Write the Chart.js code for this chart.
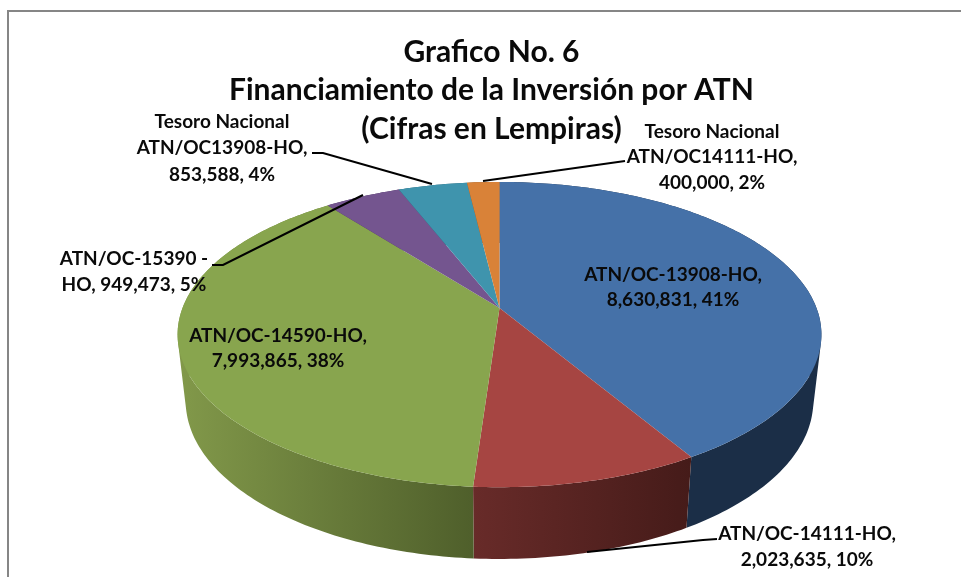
<!DOCTYPE html>
<html>
<head>
<meta charset="utf-8">
<title>Grafico No. 6</title>
<script src="https://cdn.jsdelivr.net/npm/chart.js@4"></script>
<style>
  html, body { margin: 0; padding: 0; background: #fff; overflow: hidden; }
  canvas { display: block; }
</style>
</head>
<body>
<canvas id="grafico" width="961" height="577"></canvas>
<script>
'use strict'

// datos
const categorias = ['ATN/OC-13908-HO', 'ATN/OC-14111-HO', 'ATN/OC-14590-HO', 'ATN/OC-15390 -HO', 'Tesoro Nacional ATN/OC13908-HO', 'Tesoro Nacional ATN/OC14111-HO'];
const valores = [8630831, 2023635, 7993865, 949473, 853588, 400000];
const coloresTapa = ['#4571a8', '#a64542', '#88a54e', '#74558f', '#3f94ad', '#d98238'];
const titulo = ['Grafico No. 6', 'Financiamiento de la Inversión por ATN', '(Cifras en Lempiras)'];
const etiquetas = [
  ['ATN/OC-13908-HO,', '8,630,831, 41%'],
  ['ATN/OC-14111-HO,', '2,023,635, 10%'],
  ['ATN/OC-14590-HO,', '7,993,865, 38%'],
  ['ATN/OC-15390 -', 'HO, 949,473, 5%'],
  ['Tesoro Nacional', 'ATN/OC13908-HO,', '853,588, 4%'],
  ['Tesoro Nacional', 'ATN/OC14111-HO,', '400,000, 2%']
];

// colores de la pared lateral (izquierda, derecha)
const coloresPared = [['#1b2e47', '#1b2e47'], ['#682b29', '#451b19'], ['#82994a', '#4f5f2b'], ['#4a3560', '#4a3560'], ['#285f70', '#285f70'], ['#8c5222', '#8c5222']];

// posicion de cada etiqueta: centro x, y de cada renglon
const posEtiquetas = [
  [673, [275, 300]],
  [807, [534, 560]],
  [278, [336, 361]],
  [134, [259, 285]],
  [222, [122, 148, 175]],
  [712, [132, 157, 183]]
];

// lineas guia de las etiquetas
const guias = [
  [[717, 539], [703, 540], [587, 552]],
  [[212, 265], [223, 265], [363, 195]],
  [[312, 153], [323, 153], [432, 184]],
  [[483, 181], [625, 161]]
];

// perspectiva del disco: tapa superior y base
const K = -0.174;
const tapa = { x: 499.5, y: 308, cx: 317, cy: 148 };
const base = { x: 499.5, y: 373.5, cx: 309, cy: 153.2 };

function proyectar(d, ang) {
  const u = Math.cos(ang), v = Math.sin(ang), w = 1 + K * v;
  return [d.x + d.cx * u / w, d.y + d.cy * v / w];
}

function borde(ini, fin) {
  const n = Math.max(2, Math.ceil((fin - ini) * 60));
  const angs = [];
  for (let i = 0; i <= n; i++) angs.push(ini + (fin - ini) * i / n);
  return angs;
}

// area con signo, para dejar todos los tramos con el mismo giro
function areaTramo(q) {
  let s = 0;
  q.forEach((p, i) => {
    const r = q[(i + 1) % q.length];
    s += p[0] * r[1] - r[0] * p[1];
  });
  return s;
}

const pastel3d = {
  id: 'pastel3d',
  beforeDatasetDraw(chart, args) {
    const ctx = chart.ctx;
    const arcos = args.meta.data;

    // paredes: todos los tramos de una porcion en un solo path
    arcos.forEach((arco, i) => {
      const angs = borde(arco.startAngle, arco.endAngle);
      const xs = angs.map(a => proyectar(tapa, a)[0]);
      const izq = Math.min(...xs), der = Math.max(...xs);
      const grad = ctx.createLinearGradient(izq, 0, der, 0);
      grad.addColorStop(0, coloresPared[i][0]);
      grad.addColorStop(1, coloresPared[i][1]);
      ctx.beginPath();
      for (let j = 0; j < angs.length - 1; j++) {
        const q = [proyectar(tapa, angs[j]), proyectar(tapa, angs[j + 1]), proyectar(base, angs[j + 1]), proyectar(base, angs[j])];
        if (areaTramo(q) < 0) q.reverse();
        ctx.moveTo(q[0][0], q[0][1]);
        ctx.lineTo(q[1][0], q[1][1]);
        ctx.lineTo(q[2][0], q[2][1]);
        ctx.lineTo(q[3][0], q[3][1]);
        ctx.closePath();
      }
      ctx.fillStyle = grad;
      ctx.fill();
    });

    // tapa superior
    arcos.forEach((arco, i) => {
      ctx.beginPath();
      ctx.moveTo(tapa.x, tapa.y);
      borde(arco.startAngle, arco.endAngle).forEach(a => {
        const p = proyectar(tapa, a);
        ctx.lineTo(p[0], p[1]);
      });
      ctx.closePath();
      ctx.fillStyle = coloresTapa[i];
      ctx.fill();
    });
    return false;
  },
  afterDraw(chart) {
    const ctx = chart.ctx;
    ctx.save();

    // marco
    ctx.strokeStyle = '#868686';
    ctx.lineWidth = 2;
    ctx.beginPath();
    ctx.moveTo(8, 577);
    ctx.lineTo(8, 11);
    ctx.lineTo(961, 11);
    ctx.stroke();

    ctx.strokeStyle = '#000';
    ctx.lineWidth = 2;
    guias.forEach(g => {
      ctx.beginPath();
      g.forEach((p, j) => { if (j === 0) ctx.moveTo(p[0], p[1]); else ctx.lineTo(p[0], p[1]); });
      ctx.stroke();
    });

    ctx.fillStyle = '#0a0a0a';
    ctx.font = 'bold 19px Lato';
    ctx.textAlign = 'center';
    ctx.textBaseline = 'middle';
    etiquetas.forEach((lineas, i) => {
      lineas.forEach((txt, j) => ctx.fillText(txt, posEtiquetas[i][0], posEtiquetas[i][1][j]));
    });
    ctx.restore();
  }
};

const grafico = new Chart(document.querySelector('#grafico'), {
  type: 'pie',
  data: {
    labels: categorias,
    datasets: [{ data: valores, backgroundColor: coloresTapa, borderWidth: 0 }]
  },
  options: {
    responsive: false,
    animation: false,
    layout: { padding: { left: 22 } },
    plugins: {
      legend: { display: false },
      tooltip: { enabled: false },
      title: {
        display: true,
        fullSize: false,
        text: titulo,
        color: '#0a0a0a',
        font: { family: 'Lato', size: 30, weight: 'bold', lineHeight: 1.285 },
        padding: { top: 33, bottom: 0 }
      }
    }
  },
  plugins: [pastel3d]
});
</script>
</body>
</html>
